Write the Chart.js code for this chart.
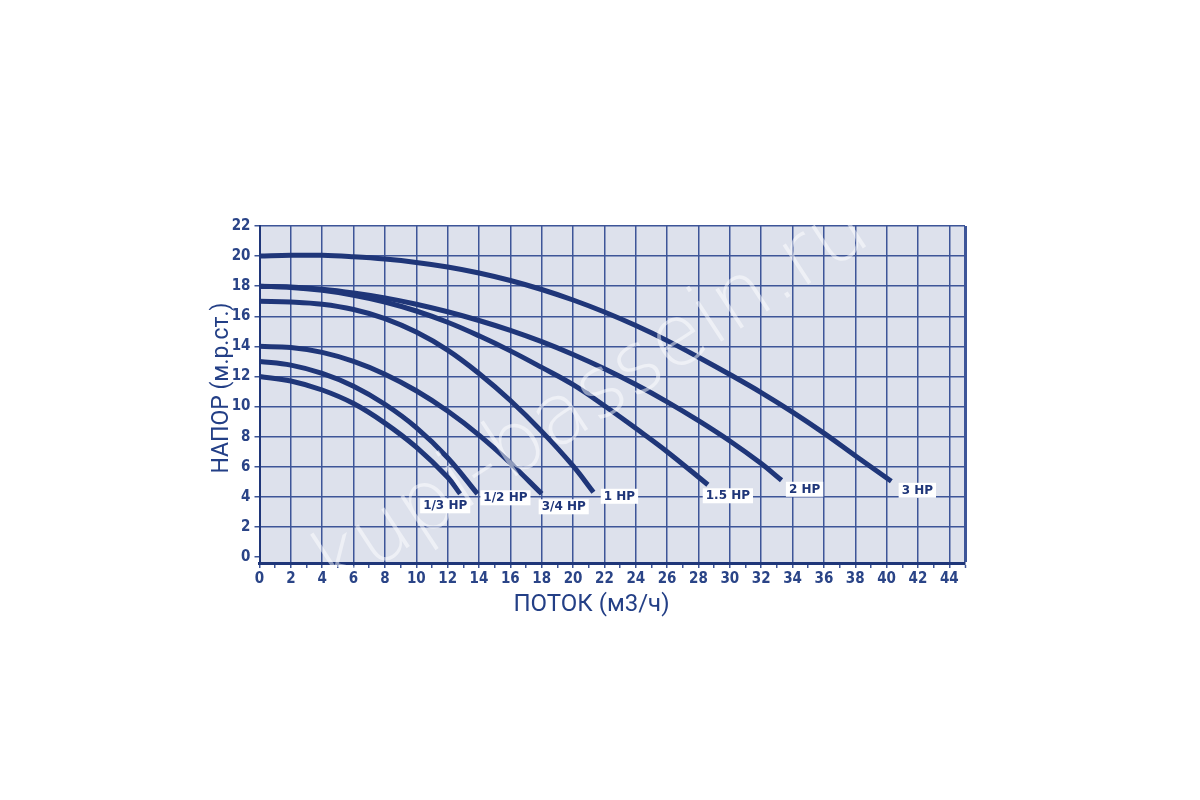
<!DOCTYPE html>
<html>
<head>
<meta charset="utf-8">
<script src="https://cdn.jsdelivr.net/npm/chart.js@4.4.1/dist/chart.umd.min.js"></script>
<style>
  html, body { margin: 0; background: #ffffff; }
  #wrap { width: 1200px; height: 800px; }
</style>
</head>
<body>
<div id="wrap"><canvas id="pumpChart" width="1200" height="800"></canvas></div>
<script>
// tick labels
const flowTicks = [0, 2, 4, 6, 8, 10, 12, 14, 16, 18, 20, 22, 24, 26, 28, 30, 32, 34, 36, 38, 40, 42, 44];
const headTicks = [0, 2, 4, 6, 8, 10, 12, 14, 16, 18, 20, 22];

// axis titles
const flowTitle = 'ПОТОК (м3/ч)';
const headTitle = 'НАПОР (м.р.ст.)';

// pump curves, flow (m3/h) vs head (m)
const curveNames = ['1/3 HP', '1/2 HP', '3/4 HP', '1 HP', '1.5 HP', '2 HP', '3 HP'];

const flow13 = [0, 2, 4, 6, 8, 10, 12, 12.8];
const head13 = [12, 11.7, 11.1, 10.2, 8.9, 7.3, 5.3, 4.2];

const flow12 = [0, 2, 4, 6, 8, 10, 12, 13.9];
const head12 = [13, 12.75, 12.2, 11.35, 10.15, 8.6, 6.6, 4.2];

const flow34 = [0, 2, 4, 6, 8, 10, 12, 14, 16, 18];
const head34 = [14, 13.92, 13.6, 13.0, 12.15, 11.05, 9.7, 8.1, 6.25, 4.2];

const flow1 = [0, 2, 4, 6, 8, 10, 12, 14, 16, 18, 20, 21.3];
const head1 = [17, 16.95, 16.8, 16.45, 15.85, 14.95, 13.75, 12.2, 10.4, 8.35, 6.05, 4.3];

const flow15 = [0, 2, 4, 6, 8, 10, 12, 14, 16, 18, 20, 22, 24, 26, 28.6];
const head15 = [18, 17.92, 17.72, 17.4, 16.95, 16.35, 15.6, 14.7, 13.7, 12.6, 11.45, 10.05, 8.55, 7.0, 4.8];

const flow2 = [0, 2, 4, 6, 8, 10, 12, 14, 16, 18, 20, 22, 24, 26, 28, 30, 32, 33.3];
const head2 = [18, 17.95, 17.8, 17.55, 17.22, 16.8, 16.3, 15.72, 15.06, 14.31, 13.46, 12.51, 11.46, 10.31, 9.06, 7.71, 6.21, 5.1];

const flow3 = [0, 2, 4, 6, 8, 10, 12, 14, 16, 18, 20, 22, 24, 26, 28, 30, 32, 34, 36, 38, 40.3];
const head3 = [20, 20.05, 20.05, 19.95, 19.8, 19.58, 19.28, 18.88, 18.38, 17.78, 17.08, 16.28, 15.38, 14.38, 13.28, 12.13, 10.93, 9.63, 8.23, 6.73, 5.03];

const curveFlows = [flow13, flow12, flow34, flow1, flow15, flow2, flow3];
const curveHeads = [head13, head12, head34, head1, head15, head2, head3];

// label box shift from the curve end, pixels
const labelShift = [[-15, 12], [28, 4], [22, 13], [26, 4], [20, 11], [23, 9], [26, 9]];

const NAVY = '#1f3679';
const GRID = '#3d5598';
const TEXT = '#2a4487';
const TITLE = '#233f86';
const PLOT_BG = '#dde1ec';
const tickFont = { family: "'Liberation Sans Narrow', 'DejaVu Sans Condensed', sans-serif", size: 15, weight: 'bold' };

const datasets = curveNames.map((name, i) => ({
    label: name,
    data: curveFlows[i].map((x, j) => ({ x: x, y: curveHeads[i][j] })),
    borderColor: NAVY,
    borderWidth: 5,
    pointRadius: 0,
    fill: false,
    tension: 0.4
}));

const plotBackground = {
    id: 'plotBackground',
    beforeDraw(chart) {
        const { ctx, chartArea: a } = chart;
        ctx.save();
        ctx.fillStyle = PLOT_BG;
        ctx.fillRect(a.left, a.top, a.right - a.left, a.bottom - a.top);
        ctx.restore();
    }
};

const curveLabels = {
    id: 'curveLabels',
    afterDatasetsDraw(chart) {
        const ctx = chart.ctx;
        ctx.save();
        ctx.font = "bold 12px 'DejaVu Sans', sans-serif";
        ctx.textAlign = 'center';
        ctx.textBaseline = 'middle';
        chart.data.datasets.forEach((ds, i) => {
            const pts = chart.getDatasetMeta(i).data;
            const end = pts[pts.length - 1];
            const cx = end.x + labelShift[i][0];
            const cy = end.y + labelShift[i][1];
            const w = ctx.measureText(ds.label).width + 6;
            ctx.fillStyle = '#ffffff';
            ctx.fillRect(cx - w / 2, cy - 7.5, w, 15);
            ctx.fillStyle = NAVY;
            ctx.fillText(ds.label, cx, cy + 0.5);
        });
        ctx.restore();
    }
};

// axis titles sit off-centre in the original, so they are placed by hand
const axisTitles = {
    id: 'axisTitles',
    afterDraw(chart) {
        const ctx = chart.ctx;
        ctx.save();
        ctx.font = "24px Roboto, sans-serif";
        ctx.fillStyle = TITLE;
        ctx.textAlign = 'center';
        ctx.textBaseline = 'alphabetic';
        ctx.fillText(flowTitle, 591.5, 611);
        ctx.font = "23px Roboto, sans-serif";
        ctx.translate(227.5, 388);
        ctx.rotate(-Math.PI / 2);
        ctx.fillText(headTitle, 0, 0);
        ctx.restore();
    }
};

const watermark = {
    id: 'watermark',
    afterDraw(chart) {
        const ctx = chart.ctx;
        const text = 'kupi-bassein.ru';
        ctx.save();
        ctx.font = "300 80px 'DejaVu Sans', sans-serif";
        const size = 80 * 646 / ctx.measureText(text).width;
        ctx.font = "300 " + size.toFixed(1) + "px 'DejaVu Sans', sans-serif";
        ctx.translate(592, 400);
        ctx.rotate(-33.3 * Math.PI / 180);
        ctx.textAlign = 'center';
        ctx.textBaseline = 'middle';
        ctx.fillStyle = 'rgba(255, 255, 255, 0.5)';
        ctx.fillText(text, 0, 0);
        ctx.restore();
    }
};

new Chart(document.getElementById('pumpChart').getContext('2d'), {
    type: 'line',
    data: { datasets: datasets },
    plugins: [plotBackground, curveLabels, axisTitles, watermark],
    options: {
        responsive: false,
        animation: false,
        layout: { padding: { left: 207, right: 235, top: 226, bottom: 183 } },
        plugins: {
            legend: { display: false },
            tooltip: { enabled: false }
        },
        scales: {
            x: {
                type: 'linear',
                min: 0,
                max: 45,
                afterFit: (s) => { s.height = 54; },
                afterBuildTicks: (s) => {
                    const t = [];
                    for (let v = 0; v <= 45; v++) t.push({ value: v });
                    s.ticks = t;
                },
                ticks: {
                    autoSkip: false,
                    maxRotation: 0,
                    padding: 2,
                    color: TEXT,
                    font: tickFont,
                    callback: (v) => flowTicks.includes(v) ? String(v) : ''
                },
                grid: {
                    color: (c) => c.tick && (c.tick.value % 2 === 0 || c.tick.value === 45) ? GRID : 'rgba(0,0,0,0)',
                    lineWidth: (c) => c.tick && c.tick.value === 45 ? 3 : 1.5,
                    tickColor: GRID,
                    tickWidth: 1.5,
                    tickLength: 5
                },
                border: { color: NAVY, width: 3 }
            },
            y: {
                type: 'linear',
                min: -0.4,
                max: 22,
                afterFit: (s) => { s.width = 52.5; },
                afterBuildTicks: (s) => {
                    s.ticks = headTicks.map(v => ({ value: v }));
                },
                ticks: {
                    autoSkip: false,
                    padding: 4,
                    color: TEXT,
                    font: tickFont
                },
                grid: {
                    color: (c) => c.tick && c.tick.value === 0 ? 'rgba(0,0,0,0)' : GRID,
                    lineWidth: 1.5,
                    tickColor: GRID,
                    tickWidth: 1.5,
                    tickLength: 5
                },
                border: { color: NAVY, width: 2 }
            }
        }
    }
});
</script>
</body>
</html>
